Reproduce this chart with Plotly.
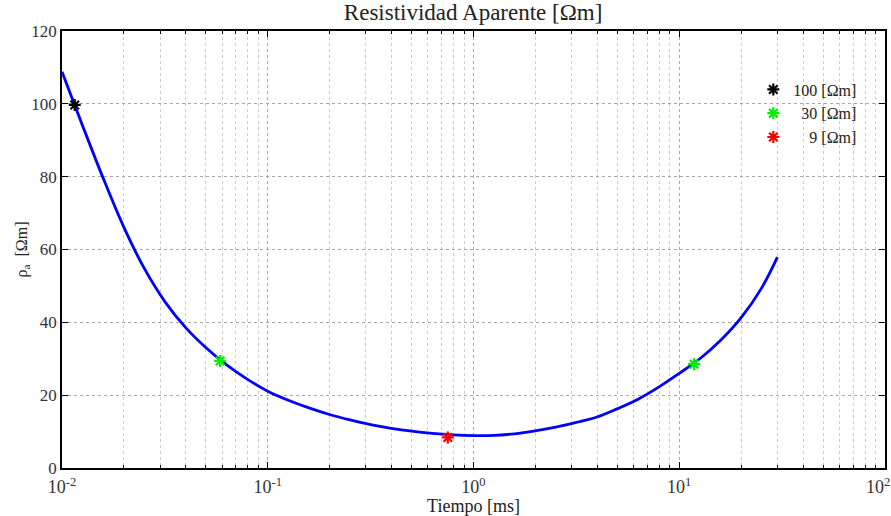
import plotly.graph_objects as go

# Apparent resistivity sounding curve (time in ms, rho_a in ohm-m), read every 0.1 decade
tiempo = [0.01, 0.01259, 0.01585, 0.01995, 0.02512, 0.03162, 0.03981, 0.05012, 0.0631, 0.07943,
          0.1, 0.1259, 0.1585, 0.1995, 0.2512, 0.3162, 0.3981, 0.5012, 0.631, 0.7943,
          1.0, 1.259, 1.585, 1.995, 2.512, 3.162, 3.981, 5.012, 6.31, 7.943,
          10.0, 12.59, 15.85, 19.95, 25.12, 30.0]
rho_a = [108.8, 94.0, 79.6, 66.2, 54.8, 45.7, 38.6, 33.0, 28.3, 24.4,
         21.1, 18.6, 16.5, 14.7, 13.2, 11.9, 10.9, 10.1, 9.5, 9.1,
         8.9, 8.95, 9.4, 10.2, 11.2, 12.5, 14.0, 16.3, 18.9, 22.2,
         26.0, 30.0, 35.0, 41.2, 49.4, 57.9]

# Layer markers
capas = ["100 [Ωm]", "30 [Ωm]", "9 [Ωm]"]
capa_colores = ["#000000", "#00ee00", "#ff0000"]
capa_t = [[0.01153], [0.0587, 11.8], [0.75]]
capa_rho = [[99.7], [29.4, 28.5], [8.4]]

# Decade tick labels (the last one is nudged left so it stays on the page)
x_ticks = [0.01, 0.1, 1, 10, 100]
x_ticktext = ["10<sup>-2</sup>", "10<sup>-1</sup>", "10<sup>0</sup>", "10<sup>1</sup>",
              "10<sup>2</sup>\u00a0\u00a0\u00a0"]

FONT = "Liberation Serif, Times New Roman, serif"

fig = go.Figure()
fig.add_trace(go.Scatter(x=tiempo, y=rho_a, mode="lines",
                         line=dict(color="#0000ff", width=2.8, shape="spline", smoothing=1.0),
                         showlegend=False, hoverinfo="skip"))

pad = ["", "\u2007", "\u2007\u2007"]
for name, col, tx, ry, p in zip(capas, capa_colores, capa_t, capa_rho, pad):
    fig.add_trace(go.Scatter(x=tx, y=ry, mode="markers", name=p + name,
                             marker=dict(symbol="asterisk-open", size=10, color=col,
                                         line=dict(color=col, width=2.2))))

axis_common = dict(
    showline=True, linecolor="black", linewidth=1.6, mirror="allticks",
    ticks="inside", tickcolor="black", ticklen=6, tickwidth=1.2,
    showgrid=True, gridcolor="#a8a8a8", griddash="dot", gridwidth=1,
    zeroline=False, automargin=False,
)

fig.update_xaxes(type="log", range=[-2, 2], tickvals=x_ticks, ticktext=x_ticktext,
                 ticklabelstandoff=2, ticklabeloverflow="allow",
                 tickfont=dict(family=FONT, size=18, color="#333333"),
                 minor=dict(dtick="D1", ticks="inside", ticklen=3, tickcolor="black",
                            showgrid=True, gridcolor="#cccccc", griddash="dot", gridwidth=1),
                 title=dict(text="Tiempo [ms]", font=dict(family=FONT, size=18, color="#222222"), standoff=0),
                 **axis_common)
fig.update_yaxes(range=[0, 120], dtick=20,
                 tickfont=dict(family=FONT, size=17, color="#333333"),
                 title=dict(text="ρ<sub>a</sub>  [Ωm]", font=dict(family=FONT, size=16, color="#222222"), standoff=0),
                 **axis_common)

fig.update_layout(
    width=891, height=516,
    margin=dict(l=62, r=6, t=31, b=48),
    plot_bgcolor="white", paper_bgcolor="white",
    title=dict(text="Resistividad Aparente [Ωm]", x=0.531, xanchor="center", y=0.992, yanchor="top",
               font=dict(family=FONT, size=23, color="#222222")),
    legend=dict(x=0.84, y=0.905, xanchor="left", yanchor="top", bgcolor="rgba(0,0,0,0)",
                font=dict(family=FONT, size=16, color="#222222"), tracegroupgap=0, itemwidth=30),
    font=dict(family=FONT),
)

fig.write_html("out.html")
